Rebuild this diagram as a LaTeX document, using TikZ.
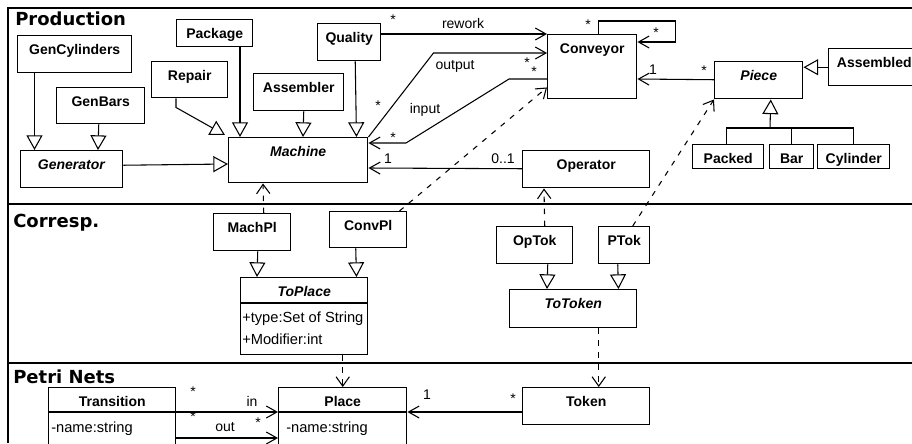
\documentclass[tikz,border=0pt]{standalone}
\usepackage{fontspec}
\setmainfont{Liberation Sans}
\newfontfamily\headfamily{DejaVu Sans}
\usetikzlibrary{arrows.meta}
\usetikzlibrary{calc}
\newcommand{\clsfont}{\fontsize{10.5}{12}\selectfont\bfseries}
\newcommand{\lblfont}{\fontsize{10.5}{12}\selectfont}
\newcommand{\attrfont}{\fontsize{11}{13}\selectfont}
\newcommand{\headfont}{\headfamily\fontsize{13.5}{16}\selectfont\bfseries}

\begin{document}
\begin{tikzpicture}[x=0.75pt,y=0.75pt,yscale=-1,xscale=1,
  cls/.style 2 args={draw, line width=1.1pt, inner sep=0pt, anchor=north west,
    minimum width=#1*0.75pt, text height=14.25pt, text depth=#2*0.75pt-14.25pt, font=\clsfont},
  gen/.style={line width=0.8pt, -{Triangle[open,length=11pt,width=12pt]}},
  assoc/.style={line width=0.8pt, -{Straight Barb[length=8pt,width=9pt]}},
  dep/.style={line width=0.8pt, dash pattern=on 4pt off 5pt, -{Straight Barb[length=7pt,width=10pt]}},
  lbl/.style={inner sep=0pt, font=\lblfont},
  attr/.style={inner sep=0pt, anchor=west, font=\attrfont},
  head/.style={inner sep=0pt, anchor=west, font=\headfont}]
\useasboundingbox (0,0) rectangle (912,443);

%Frame and separators
\draw [line width=1.1pt] (8,443) -- (8,8) -- (912,8) ;
\draw [line width=1.1pt] (8,204) -- (912,204) ;
\draw [line width=1.1pt] (8,363) -- (912,363) ;

% Section titles
\node [head] (hProd) at (15,19) {Production};
\node [head] (hCorr) at (13,223) {Corresp.};
\node [head] (hPetri) at (13,377) {Petri Nets};

%Shape: Rectangle -- Production
\node [cls={114}{37}] (genCyl) at (17,35) {GenCylinders};
\node [cls={88}{36}] (genBars) at (56,87) {GenBars};
\node [cls={102}{37}] (generator) at (20,150) {\textit{Generator}};
\node [cls={76}{27}] (package) at (176,19) {Package};
\node [cls={76}{36}] (repair) at (151,61) {Repair};
\node [cls={90}{37}] (assembler) at (253,73) {Assembler};
\node [cls={63}{37}] (quality) at (317,23) {Quality};
\node [cls={139}{45}] (machine) at (228,137) {\textit{Machine}};
\node [cls={89}{64}] (conveyor) at (547,34) {Conveyor};
\node [cls={88}{37}] (piece) at (714,61) {\textit{Piece}};
\node [cls={91}{37}] (assembled) at (828,48) {Assembled};
\node [cls={71}{24}] (packed) at (692,144) {Packed};
\node [cls={44}{24}] (bar) at (769,144) {Bar};
\node [cls={72}{24}] (cylinder) at (817,144) {Cylinder};
\node [cls={127}{37}] (operator) at (522,150) {Operator};

%Shape: Rectangle -- Corresp.
\node [cls={77}{37}] (machPl) at (213,213) {MachPl};
\node [cls={77}{36}] (convPl) at (329,211) {ConvPl};
\node [cls={127}{77}] (toPlace) at (240,277) {\textit{ToPlace}};
\node [cls={76}{37}] (opTok) at (496,226) {OpTok};
\node [cls={51}{37}] (pTok) at (598,226) {PTok};
\node [cls={127}{38}] (toToken) at (509,289) {\textit{ToToken}};

%Shape: Rectangle -- Petri Nets
\node [cls={127}{70}] (transition) at (48,387) {Transition};
\node [cls={128}{70}] (place) at (278,387) {Place};
\node [cls={127}{37}] (token) at (522,387) {Token};

% Compartments
\draw [line width=1.1pt] ($(toPlace.north west)+(0,26)$) -- ($(toPlace.north east)+(0,26)$) ;
\draw [line width=1.1pt] ($(transition.north west)+(0,25)$) -- ($(transition.north east)+(0,25)$) ;
\draw [line width=1.1pt] ($(place.north west)+(0,25)$) -- ($(place.north east)+(0,25)$) ;
\node [attr] (tpType) at ($(toPlace.north west)+(2,42)$) {+type:Set of String};
\node [attr] (tpMod) at ($(toPlace.north west)+(2,62)$) {+Modifier:int};
\node [attr] (trName) at ($(transition.north west)+(3,42)$) {-name:string};
\node [attr] (plName) at ($(place.north west)+(8,42)$) {-name:string};

%Generalizations
\draw [gen] ($(genCyl.south west)+(17.5,0)$) -- ($(generator.north west)+(14.5,0)$) ;
\draw [gen] ($(genBars.south)+(-2,0)$) -- ($(generator.north west)+(78,0)$) ;
\draw [gen] ($(generator.east)+(0,-4)$) -- ($(machine.north west)+(0,27)$) ;
\draw [gen] ($(repair.south west)+(25,0)$) -- ++(0,9) -- ($(machine.north west)+(-3,-2)$) ;
\draw [gen] ($(package.south west)+(64,0)$) -- ($(machine.north west)+(12,0)$) ;
\draw [gen] ($(assembler.south)+(5,0)$) -- ($(machine.north west)+(75,0)$) ;
\draw [gen] ($(quality.south)+(6,0)$) -- ($(machine.north east)+(-12,0)$) ;
\draw [gen] (assembled.west) -- (assembled.west -| piece.east) ;
\coordinate (pieceJoin) at (770,128);
\draw [gen] (pieceJoin) -- ($(piece.south)+(12,0)$) ;
\draw [line width=0.8pt] ($(packed.north)+(-2,0)$) |- (pieceJoin -| cylinder.north) -- (cylinder.north) ;
\draw [line width=0.8pt] (bar.north) -- (bar.north |- pieceJoin) ;
\draw [gen] ($(machPl.south)+(5.5,0)$) -- ($(toPlace.north west)+(17,0)$) ;
\draw [gen] ($(convPl.south)+(-12.5,0)$) -- ($(toPlace.north east)+(-12,0)$) ;
\draw [gen] ($(opTok.south)+(13,0)$) -- ($(toToken.north west)+(38,0)$) ;
\draw [gen] ($(pTok.south)+(-6.5,0)$) -- ($(toToken.north east)+(-19,0)$) ;

%Associations
\draw [assoc] ($(quality.north east)+(0,11)$) -- (conveyor.north west) ;
\draw [assoc] (machine.north east) -- ++(65,-84) -- ($(conveyor.north west)+(0,19)$) ;
\draw [assoc] ($(conveyor.north west)+(0,45)$) -- ++(-38,0) -- ++(-103,64) -- ($(machine.north east)+(0,6)$) ;
\draw [assoc] ($(conveyor.north)+(6.5,0)$) |- ++(77,-13) |- ($(conveyor.north east)+(0,8)$) ;
\draw [assoc] ($(piece.west)+(0,-0.5)$) -- ($(conveyor.north east)+(0,45)$) ;
\draw [assoc] ($(operator.west)+(0,-0.5)$) -- ($(machine.north east)+(0,31)$) ;
\draw [assoc] ($(token.north west)+(0,25)$) -- ($(place.north east)+(0,25)$) ;
\draw [assoc] ($(transition.north east)+(0,25)$) -- ($(place.north west)+(0,25)$) ;
\draw [assoc] ($(transition.north east)+(0,51)$) -- ($(place.north west)+(0,51)$) ;

%Dependencies
\draw [dep] ($(machPl.north)+(11.5,0)$) -- ($(machine.south west)+(35,0)$) ;
\draw [dep] ($(convPl.north east)+(-8,0)$) -- ($(conveyor.south west)+(0,-12)$) ;
\draw [dep] ($(opTok.north)+(10,0)$) -- ($(operator.south west)+(22,0)$) ;
\draw [dep] ($(pTok.north)+(8.5,0)$) -- (piece.south west) ;
\draw [dep] ($(toPlace.south)+(38.5,0)$) -- (place.north) ;
\draw [dep] ($(toToken.south)+(25.5,0)$) -- ($(token.north)+(12.5,0)$) ;

% Text Node -- multiplicities and roles
\node [lbl] (rwStar) at (393,20) {*};
\node [lbl] (rwText) at (463,23) {rework};
\node [lbl] (outText) at (455,66) {output};
\node [lbl] (outStarC) at (527,63) {*};
\node [lbl] (outStarM) at (378,106) {*};
\node [lbl] (inText) at (425,110) {input};
\node [lbl] (inStarM) at (393,138) {*};
\node [lbl] (inStarC) at (534,72) {*};
\node [lbl] (loopStarA) at (588,25) {*};
\node [lbl] (loopStarB) at (656,33) {*};
\node [lbl] (pcOne) at (653,70) {1};
\node [lbl] (pcStar) at (704,71) {*};
\node [lbl] (opOne) at (388,159) {1};
\node [lbl] (opZero) at (503,159) {0..1};
\node [lbl] (tkOne) at (427,395) {1};
\node [lbl] (tkStar) at (513,399) {*};
\node [lbl] (inStarT) at (193,392) {*};
\node [lbl] (inLbl) at (252,401) {in};
\node [lbl] (outStarT) at (193,417) {*};
\node [lbl] (outLbl) at (225,427) {out};
\node [lbl] (outStarP) at (258,423) {*};

\end{tikzpicture}
\end{document}
